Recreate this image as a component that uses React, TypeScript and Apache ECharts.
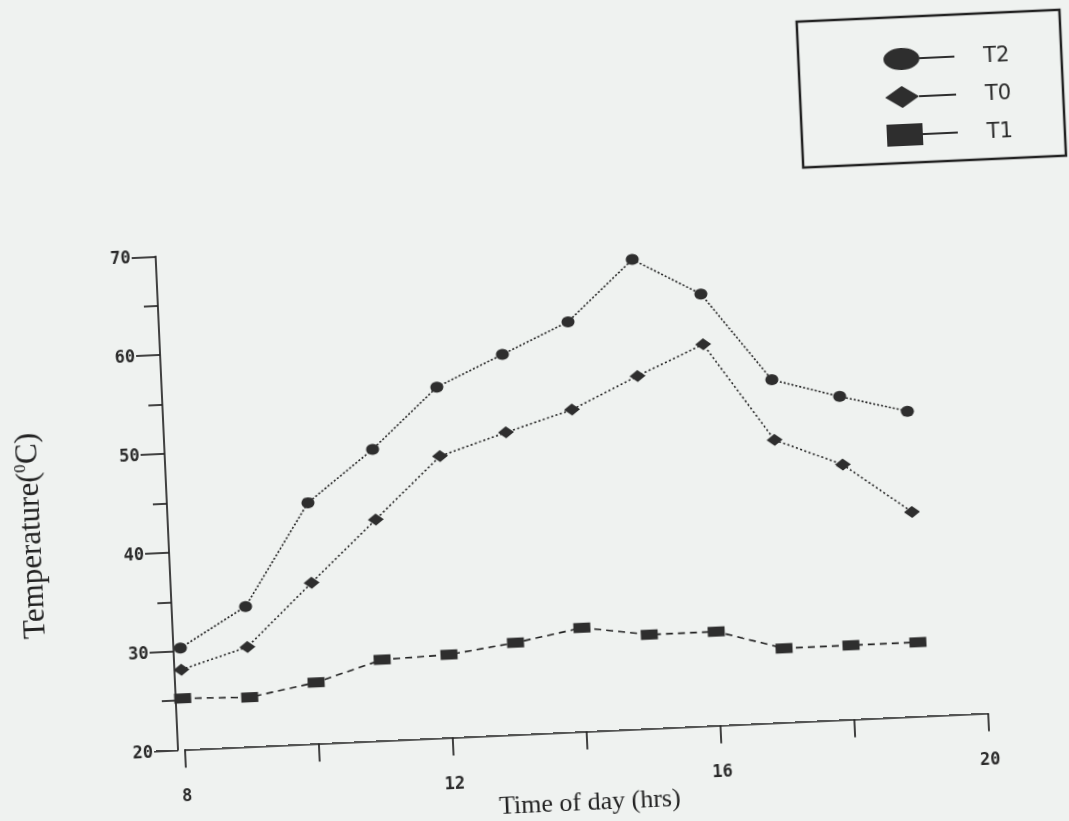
import React, { useEffect, useRef } from 'react';
import * as echarts from 'echarts';

// Time of day (hrs)
const hours = [8, 9, 10, 11, 12, 13, 14, 15, 16, 17, 18, 19];
// Temperatures (°C)
const t2 = [30.3, 34.2, 44.4, 49.5, 55.5, 58.5, 61.5, 67.5, 63.7, 54.7, 52.7, 50.9];
const t0 = [28.1, 30.1, 36.3, 42.4, 48.5, 50.6, 52.6, 55.7, 58.6, 48.6, 45.8, 40.7];
const t1 = [25.2, 25.0, 26.2, 28.2, 28.4, 29.3, 30.5, 29.5, 29.5, 27.5, 27.5, 27.5];
const seriesNames = ['T2', 'T0', 'T1'];
const xTickLabels = [8, 12, 16, 20];
const yTickLabels = [20, 30, 40, 50, 60, 70];

const BG = '#eff2f0';
const INK = '#222';
const MARK = '#2e2e2e';

export default function App() {
  const ref = useRef<HTMLDivElement>(null);
  useEffect(() => {
    document.body.style.background = BG;
    document.body.style.margin = '0';
    document.body.style.overflow = 'hidden';
    if (!ref.current) return;
    const chart = echarts.init(ref.current, undefined, { renderer: 'svg' });
    const tickFont = {
      fontFamily: 'DejaVu Sans Mono',
      fontWeight: 'bold' as const,
      fontSize: 17,
      color: '#2a2a2a',
    };
    const axisLineStyle = { color: INK, width: 1.7 };
    const option = {
      animation: false,
      backgroundColor: BG,
      grid: { left: 200, right: 125, top: 269.4, bottom: 117.5, containLabel: false },
      xAxis: {
        type: 'value',
        min: 8,
        max: 20,
        interval: 2,
        axisLine: { show: true, lineStyle: axisLineStyle },
        axisTick: { show: true, length: 18, lineStyle: axisLineStyle },
        axisLabel: {
          ...tickFont,
          margin: 37,
          formatter: (v: number) => (xTickLabels.includes(v) ? String(v) : ''),
        },
        splitLine: { show: false },
      },
      yAxis: {
        type: 'value',
        min: 20,
        max: 70,
        interval: 10,
        offset: 7,
        axisLine: { show: true, lineStyle: axisLineStyle },
        axisTick: { show: true, length: 24, lineStyle: axisLineStyle },
        minorTick: { show: true, splitNumber: 2, length: 14, lineStyle: axisLineStyle },
        axisLabel: {
          ...tickFont,
          margin: 25,
          formatter: (v: number) => (yTickLabels.includes(v) ? String(v) : ''),
        },
        splitLine: { show: false },
        minorSplitLine: { show: false },
      },
      legend: {
        orient: 'vertical',
        left: 924,
        top: 90,
        itemWidth: 71,
        itemHeight: 22,
        itemGap: 16,
        textStyle: {
          fontFamily: 'DejaVu Sans',
          fontSize: 21,
          color: '#2a2a2a',
          padding: [0, 0, 0, 24],
        },
        data: [
          {
            name: seriesNames[0],
            icon: 'path://M0,11A18,11 0 1,1 36,11A18,11 0 1,1 0,11Z M36,10.1L71,10.1L71,11.9L36,11.9Z',
          },
          {
            name: seriesNames[1],
            icon: 'path://M0,11L17,0L34,11L17,22Z M34,10.1L71,10.1L71,11.9L34,11.9Z',
          },
          {
            name: seriesNames[2],
            icon: 'path://M0,0L36,0L36,22L0,22Z M36,10.1L71,10.1L71,11.9L36,11.9Z',
          },
        ],
      },
      graphic: [
        {
          type: 'rect',
          shape: { x: 844, y: 64, width: 263, height: 146 },
          style: { fill: 'none', stroke: INK, lineWidth: 2.5 },
          silent: true,
        },
        {
          type: 'text',
          x: 54,
          y: 543,
          rotation: Math.PI / 2,
          style: {
            text: 'Temperature({sup|0}C)',
            fontFamily: 'Liberation Serif',
            fontSize: 31,
            fill: '#222',
            align: 'center',
            verticalAlign: 'middle',
            rich: {
              sup: { fontFamily: 'Liberation Serif', fontSize: 17, verticalAlign: 'top', fill: '#222' },
            },
          },
        },
        {
          type: 'text',
          x: 602,
          y: 833,
          style: {
            text: 'Time of day (hrs)',
            fontFamily: 'Liberation Serif',
            fontSize: 26,
            fill: '#222',
            align: 'center',
            verticalAlign: 'middle',
          },
        },
      ],
      series: [
        {
          name: seriesNames[0],
          type: 'line',
          data: hours.map((h, i) => [h, t2[i]]),
          symbol: 'circle',
          symbolSize: [13, 11],
          itemStyle: { color: MARK },
          lineStyle: { color: INK, width: 1.6, type: [2, 2] },
        },
        {
          name: seriesNames[1],
          type: 'line',
          data: hours.map((h, i) => [h, t0[i]]),
          symbol: 'diamond',
          symbolSize: [16, 12],
          itemStyle: { color: MARK },
          lineStyle: { color: INK, width: 1.6, type: [2, 2.5] },
        },
        {
          name: seriesNames[2],
          type: 'line',
          data: hours.map((h, i) => [h, t1[i]]),
          symbol: 'rect',
          symbolSize: [17, 10],
          itemStyle: { color: MARK },
          lineStyle: { color: INK, width: 1.6, type: [7, 5] },
        },
      ],
    };
    chart.setOption(option as any);
    return () => chart.dispose();
  }, []);
  return (
    <div
      ref={ref}
      style={{
        position: 'fixed',
        left: -30,
        top: -30,
        width: 1129,
        height: 881,
        transform: 'rotate(-2.6deg)',
        transformOrigin: '50% 50%',
      }}
    />
  );
}
